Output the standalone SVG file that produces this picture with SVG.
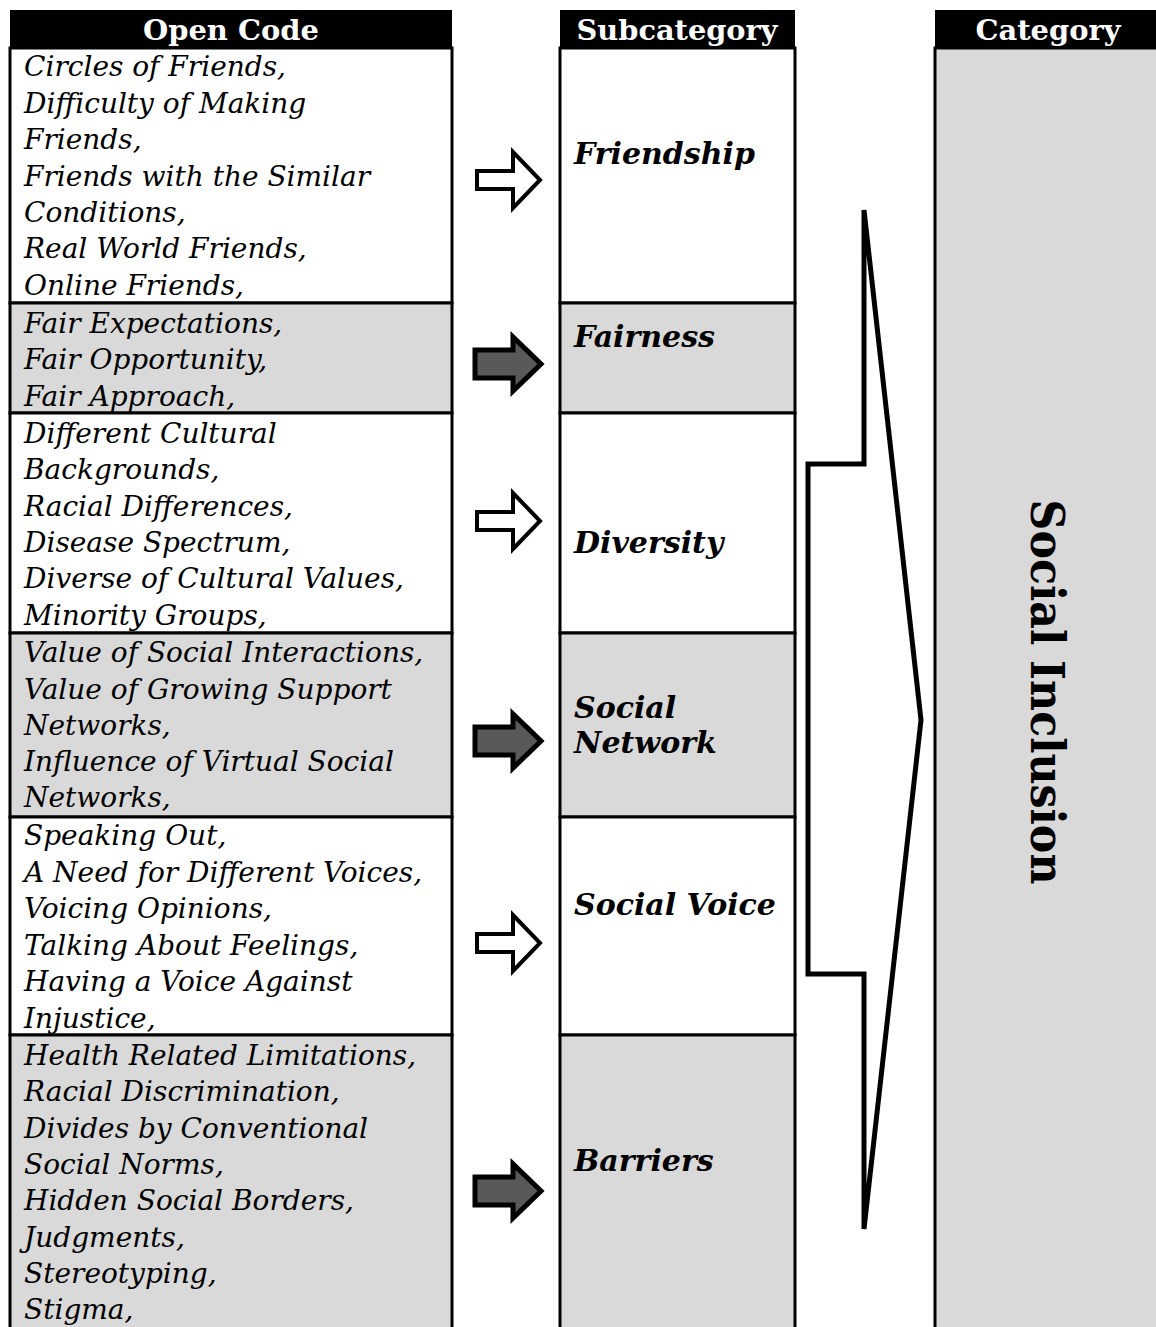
<svg xmlns="http://www.w3.org/2000/svg" width="1156" height="1327" viewBox="0 0 1156 1327">
  <style>
    .bg { fill: #ffffff; }
    .cell { stroke: #000; stroke-width: 3; }
    .white { fill: #ffffff; }
    .gray { fill: #d9d9d9; }
    .head { fill: #000; }
    .htxt { font-family: "DejaVu Serif", "Liberation Serif", serif; font-weight: bold; font-size: 27px; fill: #fff; text-anchor: middle; }
    .code { font-family: "DejaVu Serif", "Liberation Serif", serif; font-style: italic; font-size: 28px; fill: #000; }
    .sub { font-family: "DejaVu Serif", "Liberation Serif", serif; font-style: italic; font-weight: bold; font-size: 30px; fill: #000; }
    .cat { font-family: "DejaVu Serif", "Liberation Serif", serif; font-weight: bold; font-size: 46px; fill: #000; text-anchor: middle; }
    .arrow-open { fill: #ffffff; stroke: #000; stroke-width: 4; stroke-linejoin: miter; }
    .arrow-dark { fill: #595959; stroke: #000; stroke-width: 5; stroke-linejoin: miter; }
    .chevron { fill: #ffffff; stroke: #000; stroke-width: 5; stroke-linejoin: miter; }
  </style>
  <defs>
    <path id="blk-open" d="M -36,-9 H 0 V -28 L 27,0 L 0,28 V 9 H -36 Z"/>
    <path id="blk-dark" d="M -38,-14 H 0 V -27 L 28,0 L 0,27 V 14 H -38 Z"/>
  </defs>

  <rect class="bg" x="0" y="0" width="1156" height="1327"/>

  <!-- Open Code column -->
  <g id="col-open-code">
    <rect class="head" x="10" y="10" width="442" height="39"/>
    <text class="htxt" x="231" y="40" textLength="176" lengthAdjust="spacingAndGlyphs">Open Code</text>
  </g>

  <g id="code-friendship">
    <rect class="cell white" x="10" y="48" width="442" height="255"/>
    <text class="code" x="24" y="76">Circles of Friends,</text>
    <text class="code" x="24" y="113">Difficulty of Making</text>
    <text class="code" x="24" y="149">Friends,</text>
    <text class="code" x="24" y="186">Friends with the Similar</text>
    <text class="code" x="24" y="222">Conditions,</text>
    <text class="code" x="24" y="258">Real World Friends,</text>
    <text class="code" x="24" y="295">Online Friends,</text>
  </g>

  <g id="code-fairness">
    <rect class="cell gray" x="10" y="303" width="442" height="110"/>
    <text class="code" x="24" y="333">Fair Expectations,</text>
    <text class="code" x="24" y="369">Fair Opportunity,</text>
    <text class="code" x="24" y="406">Fair Approach,</text>
  </g>

  <g id="code-diversity">
    <rect class="cell white" x="10" y="413" width="442" height="220"/>
    <text class="code" x="24" y="443">Different Cultural</text>
    <text class="code" x="24" y="479">Backgrounds,</text>
    <text class="code" x="24" y="516">Racial Differences,</text>
    <text class="code" x="24" y="552">Disease Spectrum,</text>
    <text class="code" x="24" y="588">Diverse of Cultural Values,</text>
    <text class="code" x="24" y="625">Minority Groups,</text>
  </g>

  <g id="code-social-network">
    <rect class="cell gray" x="10" y="633" width="442" height="184"/>
    <text class="code" x="24" y="662">Value of Social Interactions,</text>
    <text class="code" x="24" y="699">Value of Growing Support</text>
    <text class="code" x="24" y="735">Networks,</text>
    <text class="code" x="24" y="771">Influence of Virtual Social</text>
    <text class="code" x="24" y="807">Networks,</text>
  </g>

  <g id="code-social-voice">
    <rect class="cell white" x="10" y="817" width="442" height="218"/>
    <text class="code" x="24" y="845">Speaking Out,</text>
    <text class="code" x="24" y="882">A Need for Different Voices,</text>
    <text class="code" x="24" y="918">Voicing Opinions,</text>
    <text class="code" x="24" y="955">Talking About Feelings,</text>
    <text class="code" x="24" y="991">Having a Voice Against</text>
    <text class="code" x="24" y="1028">Injustice,</text>
  </g>

  <g id="code-barriers">
    <rect class="cell gray" x="10" y="1035" width="442" height="300"/>
    <text class="code" x="24" y="1065">Health Related Limitations,</text>
    <text class="code" x="24" y="1101">Racial Discrimination,</text>
    <text class="code" x="24" y="1138">Divides by Conventional</text>
    <text class="code" x="24" y="1174">Social Norms,</text>
    <text class="code" x="24" y="1210">Hidden Social Borders,</text>
    <text class="code" x="24" y="1247">Judgments,</text>
    <text class="code" x="24" y="1283">Stereotyping,</text>
    <text class="code" x="24" y="1319">Stigma,</text>
  </g>

  <!-- Subcategory column -->
  <g id="col-subcategory">
    <rect class="head" x="560" y="10" width="235" height="39"/>
    <text class="htxt" x="677" y="40" textLength="201" lengthAdjust="spacingAndGlyphs">Subcategory</text>
  </g>

  <g id="sub-friendship">
    <rect class="cell white" x="560" y="48" width="235" height="255"/>
    <text class="sub" x="574" y="164">Friendship</text>
  </g>

  <g id="sub-fairness">
    <rect class="cell gray" x="560" y="303" width="235" height="110"/>
    <text class="sub" x="574" y="347">Fairness</text>
  </g>

  <g id="sub-diversity">
    <rect class="cell white" x="560" y="413" width="235" height="220"/>
    <text class="sub" x="574" y="553">Diversity</text>
  </g>

  <g id="sub-social-network">
    <rect class="cell gray" x="560" y="633" width="235" height="184"/>
    <text class="sub" x="574" y="718">Social</text>
    <text class="sub" x="574" y="753">Network</text>
  </g>

  <g id="sub-social-voice">
    <rect class="cell white" x="560" y="817" width="235" height="218"/>
    <text class="sub" x="574" y="915">Social Voice</text>
  </g>

  <g id="sub-barriers">
    <rect class="cell gray" x="560" y="1035" width="235" height="300"/>
    <text class="sub" x="574" y="1171">Barriers</text>
  </g>

  <!-- Category column -->
  <g id="cat-social-inclusion">
    <rect class="cell gray" x="935" y="48" width="240" height="1290"/>
    <rect class="head" x="935" y="10" width="230" height="39"/>
    <text class="htxt" x="1048" y="40" textLength="145" lengthAdjust="spacingAndGlyphs">Category</text>
    <text class="cat" transform="translate(1031,692) rotate(90)" textLength="385" lengthAdjust="spacingAndGlyphs">Social Inclusion</text>
  </g>

  <!-- Arrows linking codes to subcategories, and subcategories to the category -->
  <g id="connectors">
    <use href="#blk-open" class="arrow-open" transform="translate(513,180)"/>
    <use href="#blk-dark" class="arrow-dark" transform="translate(513,364)"/>
    <use href="#blk-open" class="arrow-open" transform="translate(513,521)"/>
    <use href="#blk-dark" class="arrow-dark" transform="translate(513,741)"/>
    <use href="#blk-open" class="arrow-open" transform="translate(513,943)"/>
    <use href="#blk-dark" class="arrow-dark" transform="translate(513,1191)"/>
    <polygon class="chevron" points="864,210 921,720 864,1229 864,974 808,974 808,464 864,464"/>
  </g>
</svg>
